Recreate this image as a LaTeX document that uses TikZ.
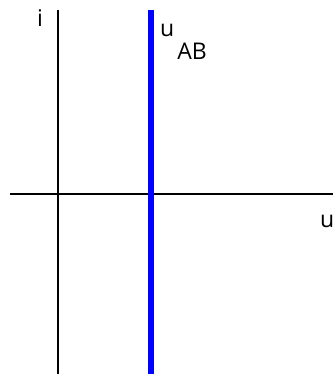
\documentclass[tikz,border=0pt]{standalone}
\usepackage{fontspec}
\setmainfont{Open Sans}
\begin{document}
\begin{tikzpicture}[
    x=1pt, y=-1pt,
    axis/.style={line width=2.6pt, black},
    curve/.style={line width=6pt, blue},
    lbl/.style={anchor=base west, inner sep=0pt, font=\fontsize{23}{27}\selectfont}
]
\useasboundingbox (0,0) rectangle (333,374);

% Axes
\coordinate (i_top) at (58,10);
\coordinate (i_bot) at (58,374);
\coordinate (u_left) at (10,194);
\coordinate (u_right) at (333,194);
\draw [axis] (i_bot) -- (i_top);
\draw [axis] (u_left) -- (u_right);

% Characteristic
\coordinate (ab_top) at (151,10);
\coordinate (ab_bot) at (151,374);
\draw [curve] (ab_bot) -- (ab_top);

% Labels
\node[lbl] (lbl_i) at (37,27) {i};
\node[lbl] (lbl_u) at (320,227) {u};
\node[lbl] (lbl_uab) at (160,37) {u\hspace{3pt}\raisebox{-23pt}{AB}};

\end{tikzpicture}
\end{document}
